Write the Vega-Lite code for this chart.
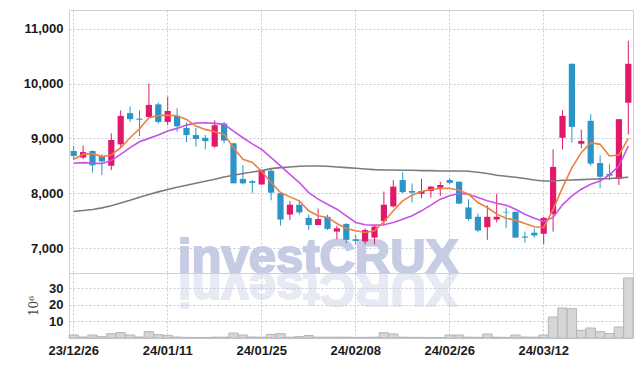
{
  "$schema": "https://vega.github.io/schema/vega-lite/v6.json",
  "padding": {"left": 22, "top": 9, "right": 10, "bottom": 4},
  "background": "white",
  "spacing": 0,
  "bounds": "flush",
  "config": {
    "view": {"stroke": "#cfd0d8"},
    "axis": {
      "labelFont": "Liberation Sans",
      "labelFontWeight": "bold",
      "labelFontSize": 13,
      "labelColor": "#1a1a1a",
      "ticks": false,
      "domain": false,
      "gridColor": "#c5c9dc",
      "gridDash": [2, 2],
      "gridWidth": 1,
      "labelPadding": 6
    }
  },
  "data": {
    "values": [
      {"d": "23/12/26", "o": 8770, "h": 8860, "l": 8618, "c": 8680, "v": 1.8, "m5": 8618, "m20": 8545, "mL": 7667},
      {"d": "23/12/27", "o": 8650, "h": 8870, "l": 8620, "c": 8750, "v": 0.6, "m5": 8709, "m20": 8558, "mL": 7685},
      {"d": "23/12/28", "o": 8770, "h": 8780, "l": 8380, "c": 8510, "v": 1.8, "m5": 8721, "m20": 8552, "mL": 7703},
      {"d": "24/01/02", "o": 8680, "h": 8710, "l": 8330, "c": 8580, "v": 0.8, "m5": 8667, "m20": 8539, "mL": 7733},
      {"d": "24/01/03", "o": 8500, "h": 9090, "l": 8420, "c": 8970, "v": 2.6, "m5": 8697, "m20": 8600, "mL": 7770},
      {"d": "24/01/04", "o": 8890, "h": 9510, "l": 8840, "c": 9410, "v": 3.2, "m5": 8830, "m20": 8709, "mL": 7822},
      {"d": "24/01/05", "o": 9460, "h": 9580, "l": 9300, "c": 9350, "v": 1.8, "m5": 9012, "m20": 8830, "mL": 7873},
      {"d": "24/01/08", "o": 9360, "h": 9510, "l": 9040, "c": 9340, "v": 0.6, "m5": 9176, "m20": 8939, "mL": 7927},
      {"d": "24/01/09", "o": 9390, "h": 10000, "l": 9380, "c": 9610, "v": 3.8, "m5": 9376, "m20": 9000, "mL": 7976},
      {"d": "24/01/10", "o": 9620, "h": 9650, "l": 9270, "c": 9300, "v": 2.0, "m5": 9418, "m20": 9061, "mL": 8024},
      {"d": "24/01/11", "o": 9300, "h": 9760, "l": 9240, "c": 9500, "v": 1.6, "m5": 9424, "m20": 9133, "mL": 8067},
      {"d": "24/01/12", "o": 9410, "h": 9550, "l": 9120, "c": 9220, "v": 0.6, "m5": 9412, "m20": 9182, "mL": 8109},
      {"d": "24/01/15", "o": 9190, "h": 9290, "l": 8930, "c": 9060, "v": 0.4, "m5": 9345, "m20": 9242, "mL": 8145},
      {"d": "24/01/16", "o": 9060, "h": 9190, "l": 8850, "c": 8990, "v": 0.3, "m5": 9224, "m20": 9279, "mL": 8182},
      {"d": "24/01/17", "o": 9010, "h": 9060, "l": 8800, "c": 8950, "v": 0.3, "m5": 9164, "m20": 9285, "mL": 8218},
      {"d": "24/01/18", "o": 8850, "h": 9330, "l": 8830, "c": 9240, "v": 0.5, "m5": 9121, "m20": 9273, "mL": 8255},
      {"d": "24/01/19", "o": 9270, "h": 9300, "l": 8910, "c": 8960, "v": 0.5, "m5": 9073, "m20": 9255, "mL": 8297},
      {"d": "24/01/22", "o": 8910, "h": 8920, "l": 8180, "c": 8180, "v": 3.0, "m5": 8830, "m20": 9133, "mL": 8327},
      {"d": "24/01/23", "o": 8260, "h": 8510, "l": 8160, "c": 8180, "v": 1.8, "m5": 8618, "m20": 9012, "mL": 8358},
      {"d": "24/01/24", "o": 8220, "h": 8240, "l": 8000, "c": 8190, "v": 0.6, "m5": 8560, "m20": 8900, "mL": 8388},
      {"d": "24/01/25", "o": 8160, "h": 8430, "l": 8150, "c": 8410, "v": 0.5, "m5": 8400, "m20": 8800, "mL": 8412},
      {"d": "24/01/26", "o": 8410, "h": 8440, "l": 7870, "c": 8010, "v": 2.2, "m5": 8194, "m20": 8648, "mL": 8448},
      {"d": "24/01/29", "o": 8000, "h": 8010, "l": 7410, "c": 7520, "v": 2.6, "m5": 8012, "m20": 8497, "mL": 8467},
      {"d": "24/01/30", "o": 7610, "h": 7860, "l": 7510, "c": 7790, "v": 0.5, "m5": 7933, "m20": 8345, "mL": 8479},
      {"d": "24/01/31", "o": 7790, "h": 7860, "l": 7610, "c": 7650, "v": 0.8, "m5": 7861, "m20": 8194, "mL": 8491},
      {"d": "24/02/01", "o": 7550, "h": 7610, "l": 7330, "c": 7420, "v": 1.5, "m5": 7679, "m20": 8012, "mL": 8497},
      {"d": "24/02/02", "o": 7420, "h": 7720, "l": 7410, "c": 7530, "v": 0.5, "m5": 7588, "m20": 7891, "mL": 8497},
      {"d": "24/02/05", "o": 7570, "h": 7610, "l": 7330, "c": 7350, "v": 0.5, "m5": 7558, "m20": 7800, "mL": 8491},
      {"d": "24/02/06", "o": 7300, "h": 7410, "l": 7160, "c": 7360, "v": 0.5, "m5": 7448, "m20": 7709, "mL": 8479},
      {"d": "24/02/07", "o": 7440, "h": 7450, "l": 7090, "c": 7150, "v": 0.5, "m5": 7358, "m20": 7588, "mL": 8467},
      {"d": "24/02/08", "o": 7160, "h": 7240, "l": 7060, "c": 7130, "v": 0.4, "m5": 7315, "m20": 7467, "mL": 8455},
      {"d": "24/02/13", "o": 7120, "h": 7360, "l": 7070, "c": 7330, "v": 0.4, "m5": 7285, "m20": 7424, "mL": 8442},
      {"d": "24/02/14", "o": 7190, "h": 7410, "l": 7070, "c": 7390, "v": 0.5, "m5": 7315, "m20": 7418, "mL": 8430},
      {"d": "24/02/15", "o": 7490, "h": 8030, "l": 7410, "c": 7790, "v": 3.2, "m5": 7480, "m20": 7424, "mL": 8424},
      {"d": "24/02/16", "o": 7760, "h": 8240, "l": 7740, "c": 8120, "v": 2.4, "m5": 7679, "m20": 7467, "mL": 8424},
      {"d": "24/02/19", "o": 8240, "h": 8380, "l": 8000, "c": 8020, "v": 0.5, "m5": 7861, "m20": 7527, "mL": 8418},
      {"d": "24/02/20", "o": 8040, "h": 8180, "l": 7830, "c": 8010, "v": 0.4, "m5": 7964, "m20": 7588, "mL": 8418},
      {"d": "24/02/21", "o": 7990, "h": 8260, "l": 7910, "c": 8040, "v": 0.4, "m5": 8030, "m20": 7679, "mL": 8412},
      {"d": "24/02/22", "o": 8040, "h": 8130, "l": 7920, "c": 8120, "v": 0.3, "m5": 8067, "m20": 7782, "mL": 8412},
      {"d": "24/02/23", "o": 8100, "h": 8210, "l": 7950, "c": 8150, "v": 0.3, "m5": 8085, "m20": 7891, "mL": 8406},
      {"d": "24/02/26", "o": 8240, "h": 8270, "l": 8160, "c": 8190, "v": 1.8, "m5": 8091, "m20": 7952, "mL": 8406},
      {"d": "24/02/27", "o": 8210, "h": 8215, "l": 7800, "c": 7810, "v": 1.8, "m5": 8055, "m20": 7994, "mL": 8406},
      {"d": "24/02/28", "o": 7740, "h": 7890, "l": 7500, "c": 7530, "v": 0.5, "m5": 7982, "m20": 7982, "mL": 8400},
      {"d": "24/02/29", "o": 7570, "h": 7630, "l": 7290, "c": 7320, "v": 0.4, "m5": 7830, "m20": 7921, "mL": 8382},
      {"d": "24/03/04", "o": 7380, "h": 7780, "l": 7150, "c": 7570, "v": 2.4, "m5": 7739, "m20": 7861, "mL": 8358},
      {"d": "24/03/05", "o": 7520, "h": 7990, "l": 7470, "c": 7570, "v": 0.5, "m5": 7618, "m20": 7818, "mL": 8327},
      {"d": "24/03/06", "o": 7660, "h": 7740, "l": 7360, "c": 7650, "v": 0.4, "m5": 7545, "m20": 7782, "mL": 8309},
      {"d": "24/03/07", "o": 7660, "h": 7665, "l": 7190, "c": 7190, "v": 1.8, "m5": 7509, "m20": 7709, "mL": 8291},
      {"d": "24/03/08", "o": 7210, "h": 7300, "l": 7100, "c": 7190, "v": 0.6, "m5": 7448, "m20": 7618, "mL": 8267},
      {"d": "24/03/11", "o": 7280, "h": 7360, "l": 7190, "c": 7230, "v": 0.5, "m5": 7388, "m20": 7545, "mL": 8242},
      {"d": "24/03/12", "o": 7260, "h": 7570, "l": 7070, "c": 7550, "v": 1.8, "m5": 7376, "m20": 7485, "mL": 8224},
      {"d": "24/03/13", "o": 7620, "h": 8800, "l": 7300, "c": 8480, "v": 12.6, "m5": 7700, "m20": 7558, "mL": 8224},
      {"d": "24/03/14", "o": 9010, "h": 9510, "l": 8800, "c": 9410, "v": 18.0, "m5": 8103, "m20": 7788, "mL": 8236},
      {"d": "24/03/15", "o": 10360, "h": 10365, "l": 8920, "c": 9210, "v": 17.6, "m5": 8467, "m20": 7952, "mL": 8242},
      {"d": "24/03/18", "o": 8900, "h": 9160, "l": 8820, "c": 8950, "v": 4.6, "m5": 8739, "m20": 8073, "mL": 8248},
      {"d": "24/03/19", "o": 9320, "h": 9440, "l": 8500, "c": 8540, "v": 6.0, "m5": 8921, "m20": 8164, "mL": 8255},
      {"d": "24/03/20", "o": 8550, "h": 8690, "l": 8090, "c": 8300, "v": 3.8, "m5": 8891, "m20": 8224, "mL": 8261},
      {"d": "24/03/21", "o": 8350, "h": 8530, "l": 8240, "c": 8320, "v": 2.6, "m5": 8679, "m20": 8333, "mL": 8267},
      {"d": "24/03/22", "o": 8260, "h": 9350, "l": 8150, "c": 9350, "v": 6.6, "m5": 8697, "m20": 8497, "mL": 8279},
      {"d": "24/03/25", "o": 9650, "h": 10780, "l": 9070, "c": 10360, "v": 36.0, "m5": 9000, "m20": 8861, "mL": 8291}
    ]
  },
  "vconcat": [
    {
      "width": 564,
      "height": 263,
      "encoding": {
        "x": {
          "field": "d",
          "type": "ordinal",
          "scale": {"type": "band", "paddingInner": 0, "paddingOuter": 0},
          "axis": {
            "labels": false,
            "title": null,
            "grid": true,
            "bandPosition": 0.5,
            "values": ["23/12/26", "24/01/11", "24/01/25", "24/02/08", "24/02/26", "24/03/12"]
          }
        }
      },
      "layer": [
        {
          "data": {"values": [{"t": "investCRUX", "rt": "XURCtsevni"}]},
          "mark": {"type": "text", "font": "Liberation Sans", "fontWeight": "bold", "fontSize": 49, "color": "#c6cce3", "stroke": "#c6cce3", "strokeWidth": 2, "align": "center", "baseline": "alphabetic"},
          "encoding": {
            "x": {"datum": "24/02/02"},
            "y": {"datum": 6545, "type": "quantitative"},
            "text": {"field": "t"}
          }
        },
        {
          "data": {"values": [{"t": "investCRUX", "rt": "XURCtsevni"}]},
          "mark": {"type": "text", "font": "Liberation Sans", "fontWeight": "bold", "fontSize": 49, "color": "#c6cce3", "stroke": "#c6cce3", "strokeWidth": 2, "opacity": 0.4, "align": "center", "baseline": "alphabetic", "angle": 180},
          "encoding": {
            "x": {"datum": "24/02/02"},
            "y": {"datum": 6545, "type": "quantitative"},
            "text": {"field": "rt"}
          }
        },
        {
          "mark": {"type": "rule", "strokeWidth": 1},
          "encoding": {
            "y": {
              "field": "l",
              "type": "quantitative",
              "scale": {"domain": [6545, 11341], "nice": false, "zero": false},
              "axis": {"title": null, "grid": true, "values": [7000, 8000, 9000, 10000, 11000], "format": ",d"}
            },
            "y2": {"field": "h"},
            "color": {"condition": {"test": "datum.c >= datum.o", "value": "#e2196b"}, "value": "#2a95c6"}
          }
        },
        {
          "mark": {"type": "bar", "width": {"band": 0.66}},
          "encoding": {
            "y": {"field": "o", "type": "quantitative"},
            "y2": {"field": "c"},
            "color": {"condition": {"test": "datum.c >= datum.o", "value": "#e2196b"}, "value": "#2a95c6"}
          }
        },
        {
          "mark": {"type": "line", "color": "#7c7c7c", "strokeWidth": 1.6},
          "encoding": {"y": {"field": "mL", "type": "quantitative"}}
        },
        {
          "mark": {"type": "line", "color": "#c952e6", "strokeWidth": 1.6},
          "encoding": {"y": {"field": "m20", "type": "quantitative"}}
        },
        {
          "mark": {"type": "line", "color": "#ee7f40", "strokeWidth": 1.6},
          "encoding": {"y": {"field": "m5", "type": "quantitative"}}
        }
      ]
    },
    {
      "width": 564,
      "height": 65,
      "mark": {"type": "bar", "fill": "#d6d6d6", "stroke": "#b5b5b5", "strokeWidth": 1},
      "encoding": {
        "x": {
          "field": "d",
          "type": "ordinal",
          "scale": {"type": "band", "paddingInner": 0, "paddingOuter": 0},
          "axis": {
            "title": null,
            "grid": true,
            "labelAngle": 0,
            "bandPosition": 0.5,
            "values": ["23/12/26", "24/01/11", "24/01/25", "24/02/08", "24/02/26", "24/03/12"]
          }
        },
        "y": {
          "field": "v",
          "type": "quantitative",
          "scale": {"domain": [0, 39], "nice": false},
          "axis": {"title": "10⁶", "titleFont": "DejaVu Serif", "titleFontWeight": "normal", "titleFontSize": 12, "titleColor": "#444444", "grid": true, "values": [10, 20, 30], "titlePadding": 8}
        }
      }
    }
  ]
}
